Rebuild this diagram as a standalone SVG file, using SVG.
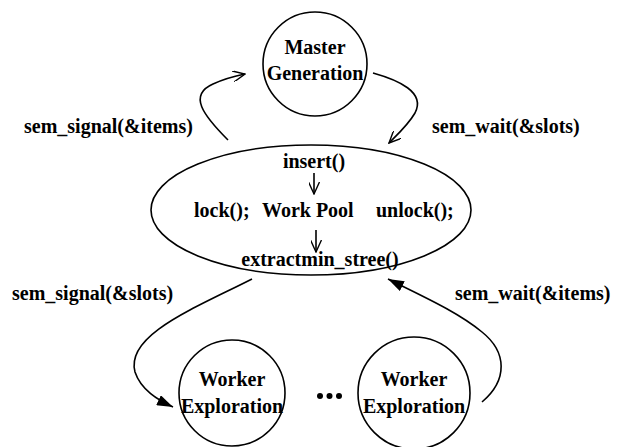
<svg xmlns="http://www.w3.org/2000/svg" width="621" height="447" viewBox="0 0 621 447">
<style>
text{font-family:'Liberation Serif','Times New Roman',serif;font-weight:bold;font-size:20px;fill:#000}
.c{text-anchor:middle}
.s{fill:none;stroke:#000;stroke-width:1.6}
.ln{fill:none;stroke:#000;stroke-width:1.6}
</style>
<defs>
<marker id="open" viewBox="0 0 13 11" refX="12" refY="5.5" markerWidth="13" markerHeight="11" markerUnits="userSpaceOnUse" orient="auto">
<path d="M0,0 L12,5.5 L0,11" fill="none" stroke="#000" stroke-width="1.4"/>
</marker>
<marker id="fill" viewBox="0 0 17 11" refX="16" refY="5.5" markerWidth="17" markerHeight="11" markerUnits="userSpaceOnUse" orient="auto">
<path d="M0,0 L16,5.5 L0,11 Z" fill="#000"/>
</marker>
</defs>
<rect width="621" height="447" fill="#fff"/>
<g id="master">
<circle class="s" cx="315" cy="64" r="52"/>
<text class="c" x="315" y="54">Master</text>
<text class="c" x="315" y="80">Generation</text>
</g>
<g id="pool">
<ellipse class="s" cx="311" cy="210" rx="160" ry="65"/>
<text class="c" x="314" y="168">insert()</text>
<text x="194" y="217">lock();</text>
<text x="262" y="217">Work Pool</text>
<text x="376" y="217">unlock();</text>
<text class="c" x="320" y="266">extractmin_stree()</text>
<path class="ln" d="M314,173 L314,194" marker-end="url(#open)"/>
<path class="ln" d="M316,230 L316,252" marker-end="url(#open)"/>
</g>
<g id="worker1">
<circle class="s" cx="232" cy="393" r="53"/>
<text class="c" x="232" y="386">Worker</text>
<text class="c" x="232" y="413">Exploration</text>
</g>
<g id="dots">
<circle cx="320" cy="396" r="3"/>
<circle cx="329.5" cy="396" r="3"/>
<circle cx="339" cy="396" r="3"/>
</g>
<g id="worker2">
<circle class="s" cx="414" cy="393" r="56"/>
<text class="c" x="414" y="386">Worker</text>
<text class="c" x="414" y="413">Exploration</text>
</g>
<g id="connectors">
<path class="ln" d="M228,140 C203,115 188,95 213,84 C224,79 235,76 245,74" marker-end="url(#open)"/>
<path class="ln" d="M373,73 C398,80 426,92 415,113 C408,125 398,134 389,143" marker-end="url(#open)"/>
<path class="ln" d="M252,279 C195,308 125,335 135,372 C141,390 158,400 173,407" marker-end="url(#fill)"/>
<path class="ln" d="M482,402 C508,380 507,352 482,332 C458,312 422,296 388,279" marker-end="url(#fill)"/>
</g>
<g id="labels">
<text x="24" y="133">sem_signal(&amp;items)</text>
<text x="432" y="133">sem_wait(&amp;slots)</text>
<text x="12" y="300">sem_signal(&amp;slots)</text>
<text x="455" y="300">sem_wait(&amp;items)</text>
</g>
</svg>
